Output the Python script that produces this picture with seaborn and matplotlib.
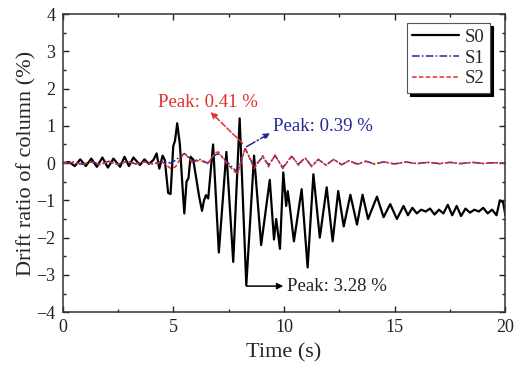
import numpy as np
import pandas as pd
import matplotlib
matplotlib.use("Agg")
import matplotlib.pyplot as plt
from matplotlib.ticker import MultipleLocator
import seaborn as sns

# S0 : 피크/골 값
t_s0 = [0.0, 0.3, 0.55, 0.8, 1.05, 1.3, 1.55, 1.8, 2.05, 2.3, 2.6, 2.8, 3.0, 3.2,
        3.5, 3.7, 3.9, 4.1, 4.25, 4.37, 4.52, 4.62, 4.77, 4.88, 5.0, 5.08, 5.18,
        5.3, 5.42, 5.5, 5.6, 5.69, 5.78, 5.9, 6.05, 6.17, 6.3, 6.39, 6.48, 6.58,
        6.8, 7.06, 7.4, 7.71, 8.0, 8.3, 8.65, 8.97, 9.36, 9.55, 9.65, 9.82, 9.97,
        10.1, 10.17, 10.25, 10.45, 10.8, 11.07, 11.33, 11.62, 11.93, 12.2, 12.45,
        12.7, 13.0, 13.3, 13.55, 13.8, 14.2, 14.5, 14.8, 15.1, 15.4, 15.6, 15.8,
        16.0, 16.2, 16.4, 16.6, 16.8, 17.0, 17.2, 17.4, 17.6, 17.8, 18.0, 18.2,
        18.4, 18.6, 18.8, 19.0, 19.2, 19.4, 19.6, 19.75, 19.9, 20.0]
v_s0 = [0.0, 0.03, -0.08, 0.1, -0.08, 0.12, -0.1, 0.15, -0.12, 0.12, -0.1, 0.17,
        -0.08, 0.15, -0.05, 0.1, -0.02, 0.08, 0.26, -0.15, 0.2, 0.08, -0.8, -0.83,
        0.45, 0.6, 1.07, 0.5, -0.65, -1.35, -0.5, -0.4, 0.17, 0.1, -0.45, -0.9,
        -1.28, -1.0, -0.86, -0.95, 0.5, -2.4, 0.3, -2.65, 1.2, -3.28, 0.2, -2.2,
        -0.45, -2.05, -1.5, -2.3, -0.25, -1.15, -0.75, -1.1, -2.1, -0.7, -2.8,
        -0.3, -2.0, -0.65, -2.1, -0.75, -1.7, -0.85, -1.65, -0.85, -1.5, -0.9,
        -1.45, -1.1, -1.5, -1.15, -1.4, -1.2, -1.35, -1.25, -1.3, -1.22, -1.38,
        -1.25, -1.35, -1.12, -1.4, -1.15, -1.42, -1.22, -1.33, -1.25, -1.3, -1.2,
        -1.35, -1.25, -1.4, -1.0, -1.05, -1.4]

# S1 / S2 : 작은 진동
t_s12 = [0.0, 0.5, 0.9, 1.3, 1.7, 2.1, 2.5, 2.9, 3.3, 3.7, 4.1, 4.5, 4.9, 5.1,
         5.5, 5.85, 6.2, 6.55, 6.9, 7.05, 7.4, 7.9, 8.25, 8.65, 9.05, 9.3, 9.6,
         9.95, 10.35, 10.65, 10.95, 11.25, 11.55, 11.9, 12.25, 12.6, 12.95, 13.3,
         13.7, 14.1, 14.5, 15.0, 15.5, 16.0, 16.5, 17.0, 17.5, 18.0, 18.5, 19.0,
         19.5, 20.0]
v_s1 = [0.0, 0.03, -0.03, 0.04, -0.03, 0.05, -0.03, 0.05, -0.02, 0.04, -0.02,
        0.05, 0.0, 0.08, 0.26, 0.05, 0.1, 0.0, 0.22, 0.25, 0.05, -0.25, 0.39,
        -0.1, 0.17, -0.05, 0.2, -0.12, 0.18, -0.03, 0.14, -0.08, 0.1, -0.05,
        0.1, -0.04, 0.06, -0.02, 0.05, -0.02, 0.03, -0.02, 0.03, -0.01, 0.02,
        -0.01, 0.02, -0.01, 0.02, -0.01, 0.01, 0.0]
v_s2 = [0.0, 0.02, -0.04, 0.03, -0.04, 0.04, -0.04, 0.04, -0.03, 0.03, -0.03,
        0.03, -0.15, -0.1, 0.28, 0.02, 0.08, -0.02, 0.28, 0.3, 0.0, -0.3, 0.41,
        -0.15, 0.2, -0.1, 0.22, -0.15, 0.2, -0.06, 0.15, -0.1, 0.1, -0.06,
        0.1, -0.05, 0.07, -0.04, 0.05, -0.03, 0.04, -0.03, 0.03, -0.02, 0.02,
        -0.02, 0.02, -0.02, 0.02, -0.01, 0.01, 0.0]

red = "#e2302b"
blue = "#26269a"

sns.set_style("ticks")
plt.rcParams['font.family'] = ['Liberation Serif', 'DejaVu Serif']

fig = plt.figure(figsize=(5.21, 3.69), dpi=100)
ax = fig.add_axes([0.120, 0.154, 0.850, 0.808])

sns.lineplot(x=t_s0, y=v_s0, ax=ax, color="black", linewidth=1.6, label="S0")
sns.lineplot(x=t_s12, y=v_s1, ax=ax, color=blue, linewidth=1.1,
             linestyle=(0, (5, 1.5, 1, 1.5)), label="S1")
sns.lineplot(x=t_s12, y=v_s2, ax=ax, color=red, linewidth=1.1,
             linestyle=(0, (3, 1.5)), label="S2")

ax.set_xlim(0, 20)
ax.set_ylim(-4, 4)
ax.xaxis.set_major_locator(MultipleLocator(5))
ax.xaxis.set_minor_locator(MultipleLocator(2.5))
ax.yaxis.set_major_locator(MultipleLocator(1))
ax.yaxis.set_minor_locator(MultipleLocator(0.5))
ax.tick_params(which='both', direction='in', top=True, right=True, width=1,
               labelsize=13, colors='#222222', pad=5)
ax.tick_params(which='major', length=4)
ax.tick_params(which='minor', length=2.5)
for s in ax.spines.values():
    s.set_linewidth(1.1)
    s.set_color('#333333')

ax.set_xlabel("Time (s)", fontsize=16, labelpad=5)
ax.set_ylabel("Drift ratio of column (%)", fontsize=16, labelpad=0)

# 주석
ax.annotate("", xy=(6.69, 1.37), xytext=(8.13, 0.53),
            arrowprops=dict(arrowstyle="-|>", linestyle="--", color=red, lw=1.1,
                            shrinkA=0, shrinkB=0, mutation_scale=9))
ax.text(6.55, 1.63, "Peak: 0.41 %", color=red, fontsize=13.5, ha="center", va="center")
ax.annotate("", xy=(9.37, 0.8), xytext=(8.31, 0.44),
            arrowprops=dict(arrowstyle="-|>", linestyle="-.", color=blue, lw=1.1,
                            shrinkA=0, shrinkB=0, mutation_scale=9))
ax.text(9.49, 0.98, "Peak: 0.39 %", color=blue, fontsize=13.5, ha="left", va="center")
ax.annotate("", xy=(9.97, -3.3), xytext=(8.31, -3.3),
            arrowprops=dict(arrowstyle="-|>", color="black", lw=1.1,
                            shrinkA=0, shrinkB=0, mutation_scale=9))
ax.text(10.15, -3.3, "Peak: 3.28 %", color="#222222", fontsize=13.5, ha="left", va="center")

leg = ax.legend(loc="upper right", bbox_to_anchor=(0.966, 0.97), borderaxespad=0,
                fontsize=13.5, handlelength=2.5, handletextpad=0.3, borderpad=0.3,
                labelspacing=0.2, fancybox=False, framealpha=1, edgecolor="#555555",
                shadow={'color': 'black', 'alpha': 1})
leg.get_frame().set_linewidth(0.8)

plt.savefig("out.png", dpi=100)
